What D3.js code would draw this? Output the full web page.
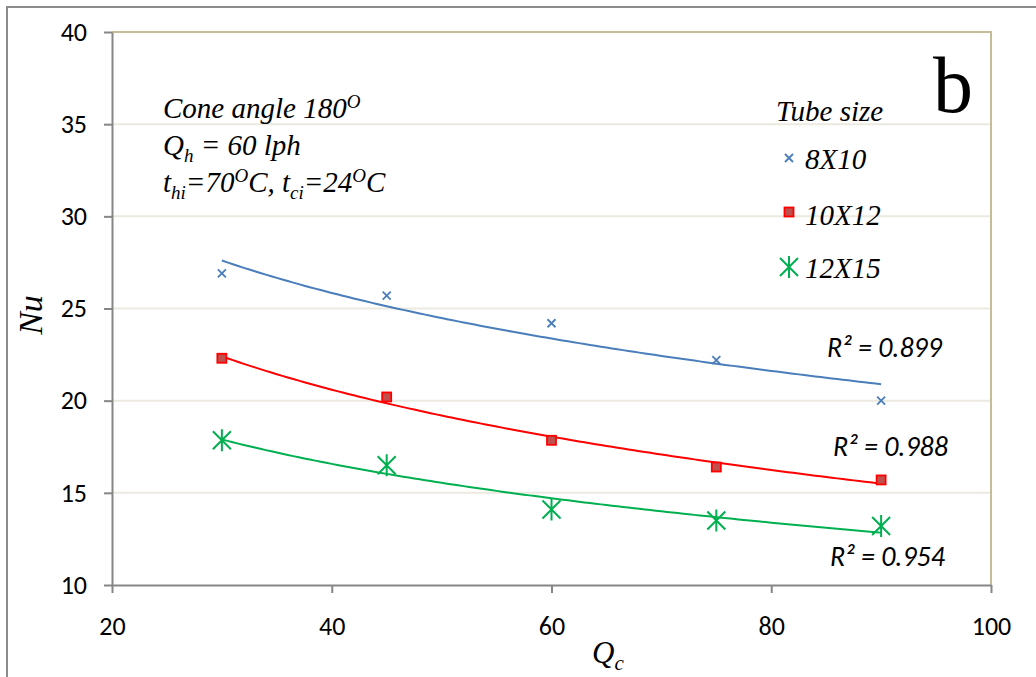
<!DOCTYPE html>
<html>
<head>
<meta charset="utf-8">
<script src="https://d3js.org/d3.v7.min.js"></script>
<style>
body { margin: 0; background: #fff; }
svg { display: block; }
</style>
</head>
<body>
<svg id="chart" width="1036" height="677"></svg>
<script>
// flow rate of cold water (lph)
var qc = [30, 45, 60, 75, 90];
var nu8x10 = [26.9, 25.7, 24.2, 22.2, 20.0];
var nu10x12 = [22.3, 20.2, 17.85, 16.4, 15.7];
var nu12x15 = [17.85, 16.5, 14.1, 13.5, 13.2];
var seriesNames = ["8X10", "10X12", "12X15"];
var r2Labels = ["0.899", "0.988", "0.954"];
var xTicks = [20, 40, 60, 80, 100];
var yTicks = [10, 15, 20, 25, 30, 35, 40];

var SANS = "Carlito, 'Open Sans', 'Liberation Sans', sans-serif";
var SERIF = "'Liberation Serif', 'Times New Roman', Times, Tinos, 'Noto Serif', 'DejaVu Serif', 'Nimbus Roman', FreeSerif, serif";

var svg = d3.select("#chart");
var margin = {top: 32, right: 45, bottom: 92, left: 112},
    width = 1036 - margin.left - margin.right,
    height = 677 - margin.top - margin.bottom;

function serifText(px, py, size, rot) {
  var holder = svg.append("g")
    .attr("transform", "translate(" + px + "," + py + ")" + (rot ? " rotate(" + rot + ")" : ""));
  return holder.append("text").attr("x", 0).attr("y", 0)
    .style("font-family", SERIF).style("font-style", "italic")
    .style("font-size", size + "px").attr("fill", "#000");
}

// outer chart frame
svg.append("rect").attr("x", 7).attr("y", 7).attr("width", 1100).attr("height", 800)
    .attr("fill", "none").attr("stroke", "#8c8c8c").attr("stroke-width", 2);

var g = svg.append("g").attr("transform", "translate(" + margin.left + "," + margin.top + ")");

var x = d3.scaleLinear().domain([20, 100]).range([0, width]);
var y = d3.scaleLinear().domain([10, 40]).range([height, 0]);

// gridlines
g.selectAll(".grid").data(yTicks.filter(function(d) { return d > 10 && d < 40; }))
  .enter().append("line")
    .attr("x1", 0).attr("x2", width)
    .attr("y1", function(d) { return y(d); }).attr("y2", function(d) { return y(d); })
    .attr("stroke", "#ece9e0").attr("stroke-width", 2);

// top & right border of plot area
g.append("path").attr("d", "M0," + y(40) + "H" + width + "V" + height)
    .attr("fill", "none").attr("stroke", "#c4bd97").attr("stroke-width", 2);

var xAxis = g.append("g").attr("transform", "translate(0," + height + ")")
    .call(d3.axisBottom(x).tickValues(xTicks).tickSize(8).tickSizeOuter(0).tickPadding(24));
var yAxis = g.append("g")
    .call(d3.axisLeft(y).tickValues(yTicks).tickSize(8).tickSizeOuter(0).tickPadding(17));
[xAxis, yAxis].forEach(function(a) {
  a.attr("font-family", null).attr("font-size", null);
  a.select(".domain").attr("stroke", "#868686").attr("stroke-width", 2);
  a.selectAll(".tick line").attr("stroke", "#868686").attr("stroke-width", 2);
  a.selectAll(".tick text").style("font-family", SANS).style("font-size", "26px").attr("fill", "#000");
});

// logarithmic trendlines fitted to each series
function logFit(xs, ys) {
  var lx = xs.map(Math.log), mx = d3.mean(lx), my = d3.mean(ys);
  var sxy = d3.sum(lx, function(v, i) { return (v - mx) * (ys[i] - my); });
  var sxx = d3.sum(lx, function(v) { return (v - mx) * (v - mx); });
  var b = sxy / sxx, a = my - b * mx;
  return function(v) { return a + b * Math.log(v); };
}

var series = [
  {name: seriesNames[0], values: nu8x10, color: "#4a7ebb", marker: "x"},
  {name: seriesNames[1], values: nu10x12, color: "#ff0000", marker: "square"},
  {name: seriesNames[2], values: nu12x15, color: "#00b050", marker: "star"}
];

var line = d3.line().x(function(d) { return x(d[0]); }).y(function(d) { return y(d[1]); });
series.forEach(function(s) {
  var f = logFit(qc, s.values);
  var pts = d3.range(qc[0], qc[qc.length - 1] + 0.01, 0.5).map(function(v) { return [v, f(v)]; });
  g.append("path").attr("d", line(pts)).attr("fill", "none")
    .attr("stroke", s.color).attr("stroke-width", 2);
});

function drawMarker(sel, type, color) {
  if (type === "x") {
    sel.append("path").attr("d", "M-4,-4L4,4M-4,4L4,-4")
      .attr("stroke", color).attr("stroke-width", 1.8).attr("fill", "none");
  } else if (type === "square") {
    sel.append("rect").attr("x", -4.5).attr("y", -4.5).attr("width", 9).attr("height", 9)
      .attr("fill", "#c0504d").attr("stroke", color).attr("stroke-width", 1.8);
  } else {
    sel.append("path").attr("d", "M-9,-9L9,9M-9,9L9,-9M0,-11L0,11")
      .attr("stroke", color).attr("stroke-width", 2).attr("fill", "none");
  }
}

series.forEach(function(s) {
  g.selectAll(null).data(s.values).enter().append("g")
    .attr("transform", function(d, i) { return "translate(" + x(qc[i]) + "," + y(d) + ")"; })
    .each(function() { drawMarker(d3.select(this), s.marker, s.color); });
});

// R² labels
var r2Pos = [[942, 357], [948, 456], [945, 566]];
r2Labels.forEach(function(r, i) {
  svg.append("text").attr("x", r2Pos[i][0]).attr("y", r2Pos[i][1])
    .style("font-family", SANS).style("font-style", "italic").style("font-size", "28px")
    .attr("text-anchor", "end").attr("fill", "#000").text("R² = " + r);
});

// annotation text
var sup = "19px";
var ann = serifText(163, 118, 29);
ann.append("tspan").text("Cone angle 180");
ann.append("tspan").attr("dy", -10).style("font-size", sup).text("O");
var ann2 = serifText(163, 155, 29);
ann2.append("tspan").text("Q");
ann2.append("tspan").attr("dy", 7).style("font-size", sup).text("h");
ann2.append("tspan").attr("dy", -7).text(" = 60 lph");
var ann3 = serifText(163, 192, 29);
ann3.append("tspan").text("t");
ann3.append("tspan").attr("dy", 7).style("font-size", sup).text("hi");
ann3.append("tspan").attr("dy", -7).text("=70");
ann3.append("tspan").attr("dy", -10).style("font-size", sup).text("O");
ann3.append("tspan").attr("dy", 10).text("C, t");
ann3.append("tspan").attr("dy", 7).style("font-size", sup).text("ci");
ann3.append("tspan").attr("dy", -7).text("=24");
ann3.append("tspan").attr("dy", -10).style("font-size", sup).text("O");
ann3.append("tspan").attr("dy", 10).text("C");

// panel letter
svg.append("text").attr("x", 933).attr("y", 112)
  .style("font-family", SERIF).style("font-size", "80px").text("b");

// legend
serifText(776, 121, 29).text("Tube size");
var legY = [158, 212, 267];
var legText = [169, 225, 278];
series.forEach(function(s, i) {
  var lg = svg.append("g").attr("transform", "translate(789," + legY[i] + ")");
  drawMarker(lg, s.marker, s.color);
  serifText(805, legText[i], 29).text(s.name);
});

// axis titles
var xt = serifText(592, 663, 31);
xt.append("tspan").text("Q");
xt.append("tspan").attr("dy", 7).style("font-size", "21px").text("c");
serifText(42, 315, 34, -90).attr("text-anchor", "middle").text("Nu");
</script>
</body>
</html>
